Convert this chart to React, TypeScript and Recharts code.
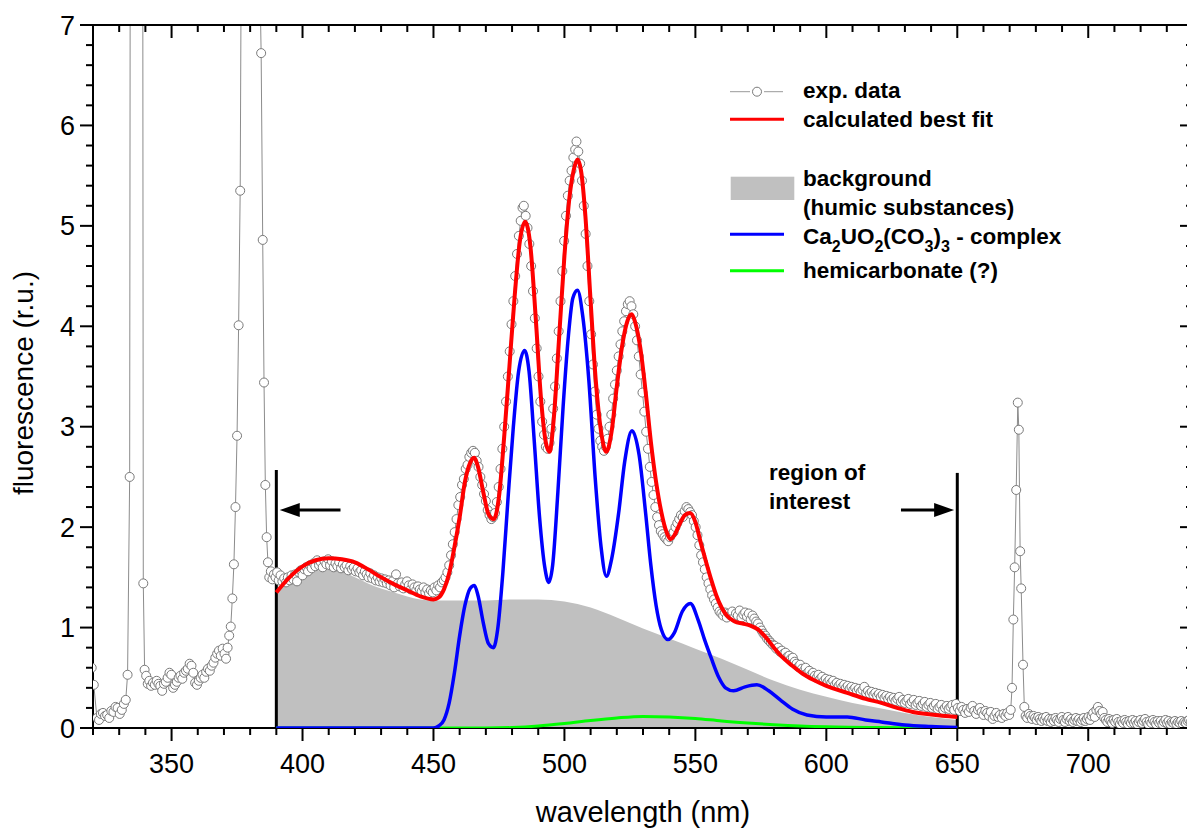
import { Area, ComposedChart, Line, ReferenceLine, XAxis, YAxis } from 'recharts'

const FONT = '"Liberation Sans", Arial, sans-serif'

const CHART_W = 1187
const CHART_H = 822
const MARGIN = { top: 17, right: 2, bottom: 0, left: 0 }
const X_AXIS_H = 102
const Y_AXIS_W = 85
const PLOT_W = CHART_W - MARGIN.left - MARGIN.right - Y_AXIS_W
const PLOT_H = CHART_H - MARGIN.top - MARGIN.bottom - X_AXIS_H

const xTicks = [320, 330, 340, 350, 360, 370, 380, 390, 400, 410, 420, 430, 440, 450, 460, 470, 480, 490, 500, 510, 520, 530, 540, 550, 560, 570, 580, 590, 600, 610, 620, 630, 640, 650, 660, 670, 680, 690, 700, 710, 720, 730, 740]
const xMajor = [350, 400, 450, 500, 550, 600, 650, 700]
const yTicks = [0, 0.2, 0.4, 0.6, 0.8, 1, 1.2, 1.4, 1.6, 1.8, 2, 2.2, 2.4, 2.6, 2.8, 3, 3.2, 3.4, 3.6, 3.8, 4, 4.2, 4.4, 4.6, 4.8, 5, 5.2, 5.4, 5.6, 5.8, 6, 6.2, 6.4, 6.6, 6.8, 7]
const yMajor = [0, 1, 2, 3, 4, 5, 6, 7]

// measured spectrum (wavelength nm, fluorescence)
const expData: [number, number][] = [
  [319.5, 0.6], [320.3, 0.43], [321.5, 0.1], [322.3, 0.08], [323, 0.14], [323.8, 0.15], [324.6, 0.12], [325.4, 0.13], [326.2, 0.1], [327, 0.17],
  [327.8, 0.16], [328.6, 0.21], [329.4, 0.2], [330.2, 0.14], [331, 0.18], [331.8, 0.24], [332.5, 0.28], [333.2, 0.53], [334, 2.5], [334.7, 20],
  [335.5, 30], [336.5, 34], [337.5, 30], [338.5, 24], [339.2, 1.44], [339.7, 0.58], [340.3, 0.52], [340.9, 0.44], [341.5, 0.47], [342.2, 0.42],
  [342.9, 0.45], [343.6, 0.43], [344.3, 0.47], [345, 0.44], [345.7, 0.42], [346.4, 0.37], [347.1, 0.44], [347.8, 0.46], [348.5, 0.5], [349.2, 0.55],
  [349.9, 0.53], [350.6, 0.4], [351.3, 0.43], [352, 0.46], [352.7, 0.5], [353.4, 0.52], [354.1, 0.49], [354.8, 0.55], [355.5, 0.57], [356.2, 0.59],
  [356.9, 0.64], [357.6, 0.62], [358.3, 0.55], [359, 0.45], [359.7, 0.43], [360.4, 0.47], [361.1, 0.5], [361.8, 0.53], [362.5, 0.5], [363.2, 0.56],
  [363.9, 0.59], [364.6, 0.57], [365.3, 0.62], [366, 0.65], [366.7, 0.7], [367.4, 0.74], [368.1, 0.77], [368.8, 0.72], [369.5, 0.79], [370.2, 0.74],
  [370.8, 0.69], [371.4, 0.8], [372, 0.92], [372.6, 1.01], [373.2, 1.29], [373.8, 1.63], [374.4, 2.2], [375, 2.91], [375.6, 4.01], [376.2, 5.35],
  [376.9, 9.5], [377.8, 13], [378.8, 15], [379.8, 16], [380.8, 15], [381.8, 13], [382.8, 10], [383.6, 7.6], [384.2, 6.72], [384.8, 4.86],
  [385.3, 3.44], [385.8, 2.42], [386.3, 1.9], [386.8, 1.65], [387.3, 1.5], [387.9, 1.56], [388.5, 1.48], [389.1, 1.53], [389.7, 1.5], [390.3, 1.55],
  [390.9, 1.47], [391.6, 1.52], [392.3, 1.46], [393, 1.49], [393.7, 1.45], [394.4, 1.5], [395.1, 1.47], [395.8, 1.52], [396.5, 1.48], [397.2, 1.53],
  [397.9, 1.46], [398.6, 1.55], [399.3, 1.57], [400, 1.52], [400.7, 1.58], [401.4, 1.6], [402.1, 1.56], [402.8, 1.62], [403.5, 1.59], [404.2, 1.64],
  [404.9, 1.61], [405.6, 1.67], [406.3, 1.62], [407, 1.65], [407.7, 1.6], [408.4, 1.66], [409.1, 1.63], [409.8, 1.68], [410.5, 1.62], [411.2, 1.66],
  [411.9, 1.6], [412.6, 1.64], [413.3, 1.61], [414, 1.65], [414.7, 1.59], [415.4, 1.63], [416.1, 1.6], [416.8, 1.62], [417.5, 1.57], [418.2, 1.61],
  [418.9, 1.58], [419.6, 1.6], [420.3, 1.56], [421, 1.59], [421.7, 1.55], [422.4, 1.57], [423.1, 1.52], [423.8, 1.56], [424.5, 1.53], [425.2, 1.5],
  [425.9, 1.54], [426.6, 1.49], [427.3, 1.52], [428, 1.47], [428.7, 1.5], [429.4, 1.46], [430.1, 1.49], [430.8, 1.45], [431.5, 1.48], [432.2, 1.44],
  [432.9, 1.47], [433.6, 1.42], [434.3, 1.46], [435, 1.4], [435.7, 1.53], [436.4, 1.44], [437.1, 1.41], [437.8, 1.45], [438.5, 1.39], [439.2, 1.43],
  [439.9, 1.46], [440.6, 1.42], [441.3, 1.38], [442, 1.43], [442.7, 1.4], [443.4, 1.37], [444.1, 1.41], [444.8, 1.38], [445.5, 1.36], [446.2, 1.4],
  [446.9, 1.35], [447.6, 1.38], [448.3, 1.34], [449, 1.37], [449.7, 1.35], [450.4, 1.4], [451.1, 1.37], [451.8, 1.42], [452.5, 1.4], [453.2, 1.45],
  [453.9, 1.47], [454.6, 1.5], [455.3, 1.55], [456, 1.62], [456.7, 1.72], [457.4, 1.83], [458.1, 1.95], [458.8, 2.08], [459.5, 2.22], [460.2, 2.3],
  [460.9, 2.42], [461.6, 2.48], [462.3, 2.58], [463, 2.62], [463.7, 2.7], [464.4, 2.74], [465.1, 2.76], [465.8, 2.74], [466.5, 2.66], [467.2, 2.6],
  [467.9, 2.5], [468.6, 2.42], [469.3, 2.33], [470, 2.26], [470.7, 2.17], [471.4, 2.12], [472.1, 2.08], [472.8, 2.1], [473.5, 2.14], [474.2, 2.25],
  [474.9, 2.4], [475.6, 2.58], [476.3, 2.78], [477, 3], [477.7, 3.25], [478.4, 3.5], [479.1, 3.75], [479.8, 4.02], [480.5, 4.25], [481.2, 4.5],
  [481.9, 4.72], [482.6, 4.9], [483.3, 5.05], [484, 5.18], [484.5, 5.2], [485.2, 5.1], [485.9, 4.98], [486.6, 4.82], [487.3, 4.6], [488, 4.35],
  [488.7, 4.08], [489.4, 3.78], [490.1, 3.5], [490.8, 3.25], [491.5, 3.05], [492.2, 2.92], [492.9, 2.8], [493.6, 2.78], [494.3, 2.84], [495, 2.98],
  [495.7, 3.18], [496.4, 3.4], [497.1, 3.68], [497.8, 3.95], [498.5, 4.25], [499.2, 4.55], [499.9, 4.85], [500.6, 5.1], [501.3, 5.3], [502, 5.45],
  [502.7, 5.55], [503.4, 5.68], [504.1, 5.76], [504.6, 5.84], [505.3, 5.74], [506, 5.62], [506.7, 5.45], [507.4, 5.2], [508.1, 4.92], [508.8, 4.6],
  [509.5, 4.25], [510.2, 3.92], [510.9, 3.62], [511.6, 3.35], [512.3, 3.12], [513, 2.98], [513.7, 2.86], [514.4, 2.8], [515.1, 2.76], [515.8, 2.8],
  [516.5, 2.88], [517.2, 3], [517.9, 3.12], [518.6, 3.28], [519.3, 3.42], [520, 3.56], [520.7, 3.7], [521.4, 3.82], [522.1, 3.95], [522.8, 4.05],
  [523.5, 4.15], [524.2, 4.22], [524.9, 4.25], [525.6, 4.2], [526.3, 4.12], [527, 4], [527.7, 3.86], [528.4, 3.7], [529.1, 3.52], [529.8, 3.34],
  [530.5, 3.15], [531.2, 2.95], [531.9, 2.78], [532.6, 2.6], [533.3, 2.45], [534, 2.32], [534.7, 2.2], [535.4, 2.1], [536.1, 2.02], [536.8, 1.96],
  [537.5, 1.93], [538.2, 1.9], [538.9, 1.88], [539.6, 1.86], [540.3, 1.9], [541, 1.93], [541.7, 1.95], [542.4, 2], [543.1, 2.04], [543.8, 2.08],
  [544.5, 2.12], [545.2, 2.1], [545.9, 2.16], [546.6, 2.2], [547.3, 2.18], [548, 2.15], [548.7, 2.12], [549.4, 2.06], [550.1, 2], [550.8, 1.92],
  [551.5, 1.82], [552.2, 1.72], [552.9, 1.65], [553.6, 1.58], [554.3, 1.5], [555, 1.44], [555.7, 1.38], [556.4, 1.32], [557.1, 1.28], [557.8, 1.24],
  [558.5, 1.2], [559.2, 1.16], [559.9, 1.14], [560.6, 1.12], [561.3, 1.15], [562, 1.1], [562.7, 1.14], [563.4, 1.12], [564.1, 1.16], [564.8, 1.1],
  [565.5, 1.14], [566.2, 1.12], [566.9, 1.17], [567.6, 1.1], [568.3, 1.13], [569, 1.15], [569.7, 1.11], [570.4, 1.14], [571.1, 1.08], [571.8, 1.12],
  [572.5, 1.09], [573.2, 1.06], [573.9, 1.04], [574.6, 1], [575.3, 0.97], [576, 0.94], [576.7, 0.92], [577.4, 0.89], [578.1, 0.87], [578.8, 0.85],
  [579.5, 0.83], [580.2, 0.82], [580.9, 0.79], [581.6, 0.8], [582.3, 0.76], [583, 0.77], [583.7, 0.74], [584.4, 0.75], [585.1, 0.71], [585.8, 0.72],
  [586.5, 0.69], [587.2, 0.7], [587.9, 0.66], [588.6, 0.64], [589.3, 0.61], [590, 0.63], [590.7, 0.59], [591.4, 0.57], [592.1, 0.6], [592.8, 0.55],
  [593.5, 0.57], [594.2, 0.53], [594.9, 0.55], [595.6, 0.52], [596.3, 0.5], [597, 0.53], [597.7, 0.49], [598.4, 0.51], [599.1, 0.47], [599.8, 0.49],
  [600.5, 0.46], [601.2, 0.48], [601.9, 0.45], [602.6, 0.47], [603.3, 0.43], [604, 0.45], [604.7, 0.42], [605.4, 0.44], [606.1, 0.41], [606.8, 0.43],
  [607.5, 0.4], [608.2, 0.42], [608.9, 0.39], [609.6, 0.41], [610.3, 0.38], [611, 0.4], [611.7, 0.37], [612.4, 0.39], [613.1, 0.36], [613.8, 0.38],
  [614.5, 0.41], [615.2, 0.35], [615.9, 0.37], [616.6, 0.34], [617.3, 0.36], [618, 0.33], [618.7, 0.35], [619.4, 0.32], [620.1, 0.34], [620.8, 0.31],
  [621.5, 0.33], [622.2, 0.3], [622.9, 0.32], [623.6, 0.29], [624.3, 0.31], [625, 0.28], [625.7, 0.3], [626.4, 0.27], [627.1, 0.29], [627.8, 0.31],
  [628.5, 0.26], [629.2, 0.28], [629.9, 0.25], [630.6, 0.27], [631.3, 0.29], [632, 0.24], [632.7, 0.26], [633.4, 0.28], [634.1, 0.23], [634.8, 0.25],
  [635.5, 0.27], [636.2, 0.22], [636.9, 0.24], [637.6, 0.26], [638.3, 0.21], [639, 0.23], [639.7, 0.25], [640.4, 0.2], [641.1, 0.22], [641.8, 0.24],
  [642.5, 0.19], [643.2, 0.21], [643.9, 0.23], [644.6, 0.18], [645.3, 0.2], [646, 0.22], [646.7, 0.19], [647.4, 0.21], [648.1, 0.23], [648.8, 0.18],
  [649.5, 0.24], [650.2, 0.2], [650.9, 0.17], [651.6, 0.21], [652.3, 0.18], [653, 0.15], [653.7, 0.19], [654.4, 0.16], [655.1, 0.2], [655.8, 0.22],
  [656.5, 0.17], [657.2, 0.14], [657.9, 0.18], [658.6, 0.2], [659.3, 0.16], [660, 0.13], [660.7, 0.17], [661.4, 0.15], [662.1, 0.12], [662.8, 0.16],
  [663.5, 0.09], [664.2, 0.12], [664.9, 0.15], [665.6, 0.11], [666.3, 0.13], [667, 0.1], [667.7, 0.14], [668.4, 0.12], [669.1, 0.15], [669.8, 0.13],
  [670.4, 0.18], [670.9, 0.4], [671.4, 1.08], [671.9, 1.6], [672.5, 2.37], [673.1, 3.24], [673.5, 2.97], [674, 1.76], [674.4, 1.39], [675.1, 0.63],
  [675.6, 0.21], [676.1, 0.12], [676.7, 0.1], [677.3, 0.14], [677.9, 0.12], [678.5, 0.09], [679.1, 0.12], [679.7, 0.1], [680.3, 0.08], [680.9, 0.11],
  [681.5, 0.09], [682.1, 0.07], [682.7, 0.1], [683.3, 0.08], [683.9, 0.11], [684.5, 0.07], [685.1, 0.09], [685.7, 0.06], [686.3, 0.09], [686.9, 0.07],
  [687.5, 0.1], [688.1, 0.08], [688.7, 0.06], [689.3, 0.09], [689.9, 0.11], [690.5, 0.08], [691.1, 0.06], [691.7, 0.09], [692.3, 0.11], [692.9, 0.07],
  [693.5, 0.09], [694.1, 0.06], [694.7, 0.08], [695.3, 0.1], [695.9, 0.07], [696.5, 0.09], [697.1, 0.06], [697.7, 0.08], [698.3, 0.1], [698.9, 0.07],
  [699.5, 0.09], [700.1, 0.11], [700.7, 0.08], [701.3, 0.12], [701.9, 0.15], [702.5, 0.11], [703.1, 0.18], [703.7, 0.21], [704.3, 0.17], [704.9, 0.14],
  [705.5, 0.16], [706.1, 0.1], [706.7, 0.08], [707.3, 0.06], [707.9, 0.09], [708.5, 0.07], [709.1, 0.05], [709.7, 0.08], [710.3, 0.06], [710.9, 0.09],
  [711.5, 0.06], [712.1, 0.04], [712.7, 0.07], [713.3, 0.05], [713.9, 0.08], [714.5, 0.06], [715.1, 0.04], [715.7, 0.07], [716.3, 0.05], [716.9, 0.08],
  [717.5, 0.05], [718.1, 0.07], [718.7, 0.04], [719.3, 0.06], [719.9, 0.08], [720.5, 0.05], [721.1, 0.07], [721.7, 0.09], [722.3, 0.06], [722.9, 0.04],
  [723.5, 0.07], [724.1, 0.05], [724.7, 0.08], [725.3, 0.06], [725.9, 0.04], [726.5, 0.07], [727.1, 0.05], [727.7, 0.07], [728.3, 0.04], [728.9, 0.06],
  [729.5, 0.08], [730.1, 0.05], [730.7, 0.07], [731.3, 0.04], [731.9, 0.06], [732.5, 0.05], [733.1, 0.07], [733.7, 0.04], [734.3, 0.06], [734.9, 0.05],
  [735.5, 0.07], [736.1, 0.04], [736.7, 0.06], [737.3, 0.05], [737.9, 0.07], [738.5, 0.08], [739.1, 0.06], [739.7, 0.09],
]

// best fit
const fitData: [number, number][] = [
  [390, 1.35], [395, 1.5], [400, 1.61], [405, 1.67], [410, 1.69], [415, 1.68], [420, 1.65], [425, 1.58], [430, 1.5], [435, 1.43],
  [440, 1.37], [445, 1.31], [450, 1.28], [452, 1.3], [454, 1.38], [456, 1.54], [458, 1.8], [460, 2.1], [462, 2.45], [464, 2.64],
  [465.5, 2.69], [467, 2.6], [469, 2.35], [471, 2.13], [473, 2.08], [475, 2.3], [477, 2.9], [479, 3.6], [481, 4.3], [483, 4.85],
  [485, 5.04], [487, 4.8], [489, 4.1], [491, 3.3], [493, 2.83], [494.3, 2.75], [496, 3.1], [498, 3.9], [500, 4.7], [502, 5.3],
  [503.5, 5.55], [505, 5.66], [506.5, 5.52], [508, 5.1], [510, 4.25], [512, 3.45], [514, 2.95], [516, 2.75], [518, 2.95], [520, 3.4],
  [522, 3.8], [524, 4.05], [525.7, 4.12], [527, 4.04], [529, 3.78], [531, 3.35], [533, 2.85], [535, 2.45], [537, 2.15], [539, 1.95],
  [540.5, 1.88], [542, 1.92], [544, 2.03], [546, 2.12], [548, 2.14], [550, 2.05], [552, 1.85], [554, 1.66], [556, 1.48], [558, 1.32],
  [560, 1.2], [562, 1.12], [565, 1.06], [568, 1.04], [571, 1.02], [574, 0.98], [577, 0.9], [580, 0.8], [583, 0.71], [587, 0.62],
  [591, 0.54], [595, 0.48], [600, 0.42], [608, 0.35], [615, 0.29], [621, 0.25], [627, 0.2], [633, 0.16], [640, 0.135], [650, 0.11],
]

// background (humic substances)
const backgroundData: [number, number][] = [
  [390, 1.36], [395, 1.45], [400, 1.52], [405, 1.56], [410, 1.58], [415, 1.56], [420, 1.5], [425, 1.44], [430, 1.39], [435, 1.35],
  [440, 1.31], [445, 1.28], [450, 1.27], [460, 1.27], [470, 1.27], [480, 1.28], [490, 1.28], [500, 1.26], [510, 1.2], [520, 1.1],
  [530, 0.99], [540, 0.89], [550, 0.79], [560, 0.69], [570, 0.58], [580, 0.47], [590, 0.38], [600, 0.31], [610, 0.25], [620, 0.2],
  [630, 0.15], [640, 0.11], [650, 0.08],
]

// Ca2UO2(CO3)3 complex
const complexData: [number, number][] = [
  [390, 0], [445, 0], [450, 0], [452, 0.02], [454, 0.08], [456, 0.25], [458, 0.55], [460, 0.92], [462, 1.22], [464, 1.39],
  [465.6, 1.42], [467, 1.32], [469, 1.05], [471, 0.84], [472.9, 0.8], [474.5, 0.98], [476.5, 1.55], [478.5, 2.3], [480.5, 3], [482.5, 3.55],
  [484.8, 3.76], [486.5, 3.55], [488.5, 2.85], [490.5, 2.1], [492.5, 1.6], [494, 1.45], [495.5, 1.62], [497.5, 2.35], [499.5, 3.2], [501.5, 3.9],
  [503.2, 4.28], [505, 4.36], [507, 4.1], [509.3, 3.47], [511.8, 2.47], [514, 1.8], [516, 1.51], [518, 1.68], [520.7, 2.14], [523, 2.65],
  [525.8, 2.96], [528.5, 2.72], [531, 2.14], [533, 1.62], [535, 1.22], [537, 0.98], [539.5, 0.88], [542, 0.95], [545, 1.16], [548.1, 1.24],
  [551, 1.08], [553.5, 0.88], [556, 0.7], [559, 0.5], [561.5, 0.4], [564.6, 0.37], [569, 0.41], [573.5, 0.43], [578, 0.37], [582.4, 0.28],
  [587, 0.19], [592.6, 0.13], [600, 0.11], [608, 0.11], [615, 0.08], [621, 0.06], [630, 0.03], [640, 0.015], [650, 0.005],
]

// hemicarbonate
const hemiData: [number, number][] = [
  [390, 0], [470, 0], [480, 0.005], [490, 0.02], [500, 0.045], [510, 0.075], [520, 0.1], [530, 0.115], [540, 0.11], [550, 0.095],
  [560, 0.07], [570, 0.05], [580, 0.033], [590, 0.02], [600, 0.012], [620, 0.004], [650, 0],
]

const rows = (pts: [number, number][]) => pts.map(([x, y]) => ({ x, y }))

// bottom ticks + labels; the same tick also draws its inward twin on the top frame edge,
// and the first tick draws the top and right frame lines
function BottomTick(p: any) {
  const v = p.payload.value
  const major = xMajor.includes(v)
  const len = major ? 13 : 7
  const top = p.y - PLOT_H
  return (
    <g>
      {v === xTicks[0] && (
        <path d={`M${p.x},${top} H${p.x + PLOT_W} V${p.y}`} fill="none" stroke="#000" strokeWidth={2} />
      )}
      <line x1={p.x} x2={p.x} y1={p.y} y2={p.y + len} stroke="#000" strokeWidth={2} />
      <line x1={p.x} x2={p.x} y1={top} y2={top + len} stroke="#000" strokeWidth={2} />
      {major && (
        <text x={p.x} y={p.y + 45} textAnchor="middle" fontSize={27} fontFamily={FONT} fill="#000">
          {v}
        </text>
      )}
    </g>
  )
}

// left ticks + labels, with the inward twin on the right frame edge
function LeftTick(p: any) {
  const v = p.payload.value
  const major = yMajor.includes(v)
  const len = major ? 13 : 7
  const right = p.x + PLOT_W
  return (
    <g>
      <line x1={p.x - len} x2={p.x} y1={p.y} y2={p.y} stroke="#000" strokeWidth={2} />
      <line x1={right - len} x2={right} y1={p.y} y2={p.y} stroke="#000" strokeWidth={2} />
      {major && (
        <text x={p.x - 18} y={p.y + 9.5} textAnchor="end" fontSize={27} fontFamily={FONT} fill="#000">
          {v}
        </text>
      )}
    </g>
  )
}

function Arrow(p: any) {
  const { x1, y1, x2, y2 } = p
  const dir = x2 > x1 ? 1 : -1
  return (
    <g>
      <line x1={x1} y1={y1} x2={x2 - dir * 12} y2={y2} stroke="#000" strokeWidth={3} />
      <polygon points={`${x2},${y2} ${x2 - dir * 20},${y2 - 7} ${x2 - dir * 20},${y2 + 7}`} fill="#000" />
    </g>
  )
}

const axisLine = { stroke: '#000', strokeWidth: 2 }
const onTop = { zIndex: 1300 } as any

export default function App() {
  return (
    <div style={{ position: 'relative', width: CHART_W, height: CHART_H }}>
      <ComposedChart width={CHART_W} height={CHART_H} margin={MARGIN}>
        <XAxis xAxisId="b" type="number" dataKey="x" domain={[320, 740]} allowDataOverflow ticks={xTicks} interval={0}
          tickSize={0} tickMargin={0} height={X_AXIS_H} axisLine={axisLine} tickLine={false} tick={(p: any) => <BottomTick {...p} />} />
        <YAxis yAxisId="l" type="number" domain={[0, 7]} allowDataOverflow ticks={yTicks} interval={0}
          tickSize={0} tickMargin={0} width={Y_AXIS_W} axisLine={axisLine} tickLine={false} tick={(p: any) => <LeftTick {...p} />} />

        <Area xAxisId="b" yAxisId="l" data={rows(backgroundData)} dataKey="y" type="monotone" fill="#c0c0c0" fillOpacity={1}
          stroke="none" isAnimationActive={false} activeDot={false} />
        <Line xAxisId="b" yAxisId="l" data={rows(expData)} dataKey="y" type="linear" stroke="#8c8c8c" strokeWidth={1}
          dot={{ r: 4.5, stroke: '#7a7a7a', strokeWidth: 1, fill: '#fff' }} activeDot={false} isAnimationActive={false} />
        <Line xAxisId="b" yAxisId="l" data={rows(hemiData)} dataKey="y" type="monotone" stroke="#00ff00" strokeWidth={3}
          dot={false} activeDot={false} isAnimationActive={false} {...onTop} />
        <Line xAxisId="b" yAxisId="l" data={rows(complexData)} dataKey="y" type="monotone" stroke="#0000ff" strokeWidth={3.5}
          dot={false} activeDot={false} isAnimationActive={false} {...onTop} />
        <Line xAxisId="b" yAxisId="l" data={rows(fitData)} dataKey="y" type="monotone" stroke="#ff0000" strokeWidth={4}
          dot={false} activeDot={false} isAnimationActive={false} {...onTop} />

        <ReferenceLine xAxisId="b" yAxisId="l" segment={[{ x: 390, y: 0 }, { x: 390, y: 2.57 }]} stroke="#000" strokeWidth={3} />
        <ReferenceLine xAxisId="b" yAxisId="l" segment={[{ x: 650, y: 0 }, { x: 650, y: 2.54 }]} stroke="#000" strokeWidth={3} />
        <ReferenceLine xAxisId="b" yAxisId="l" segment={[{ x: 414.5, y: 2.17 }, { x: 391.3, y: 2.17 }]} shape={(p: any) => <Arrow {...p} />} />
        <ReferenceLine xAxisId="b" yAxisId="l" segment={[{ x: 628.5, y: 2.17 }, { x: 648.8, y: 2.17 }]} shape={(p: any) => <Arrow {...p} />} />
      </ComposedChart>

      <svg width={CHART_W} height={CHART_H} style={{ position: 'absolute', left: 0, top: 0, pointerEvents: 'none' }}
        fontFamily={FONT}>
        <text x={25} y={375} transform="rotate(-90 25 375)" textAnchor="middle" fontSize={28}>fluorescence (r.u.)</text>
        <text x={635} y={814} textAnchor="middle" fontSize={29}>wavelength (nm)</text>

        <line x1={722} x2={742} y1={83.7} y2={83.7} stroke="#999" strokeWidth={1} />
        <line x1={756} x2={775} y1={83.7} y2={83.7} stroke="#999" strokeWidth={1} />
        <circle cx={749} cy={83.7} r={4.5} stroke="#7a7a7a" strokeWidth={1} fill="#fff" />
        <line x1={722} x2={776} y1={111.3} y2={111.3} stroke="#ff0000" strokeWidth={3} />
        <rect x={722.7} y={168.7} width={63.6} height={23.3} fill="#c0c0c0" />
        <line x1={722} x2={776} y1={226.3} y2={226.3} stroke="#0000ff" strokeWidth={3} />
        <line x1={722} x2={776} y1={262.7} y2={262.7} stroke="#00ff00" strokeWidth={3} />

        <g fontSize={22.5} fontWeight="bold" fill="#000">
          <text x={795} y={89.5}>exp. data</text>
          <text x={795} y={118.5}>calculated best fit</text>
          <text x={795} y={177.5}>background</text>
          <text x={795} y={206.5}>(humic substances)</text>
          <text x={795} y={235.5}>
            Ca<tspan fontSize={16} dy={8}>2</tspan>
            <tspan dy={-8}>UO</tspan>
            <tspan fontSize={16} dy={8}>2</tspan>
            <tspan dy={-8}>(CO</tspan>
            <tspan fontSize={16} dy={8}>3</tspan>
            <tspan dy={-8}>)</tspan>
            <tspan fontSize={16} dy={8}>3</tspan>
            <tspan dy={-8}> - complex</tspan>
          </text>
          <text x={795} y={269.5}>hemicarbonate (?)</text>
          <text x={761} y={472}>region of</text>
          <text x={761} y={501}>interest</text>
        </g>
      </svg>
    </div>
  )
}
